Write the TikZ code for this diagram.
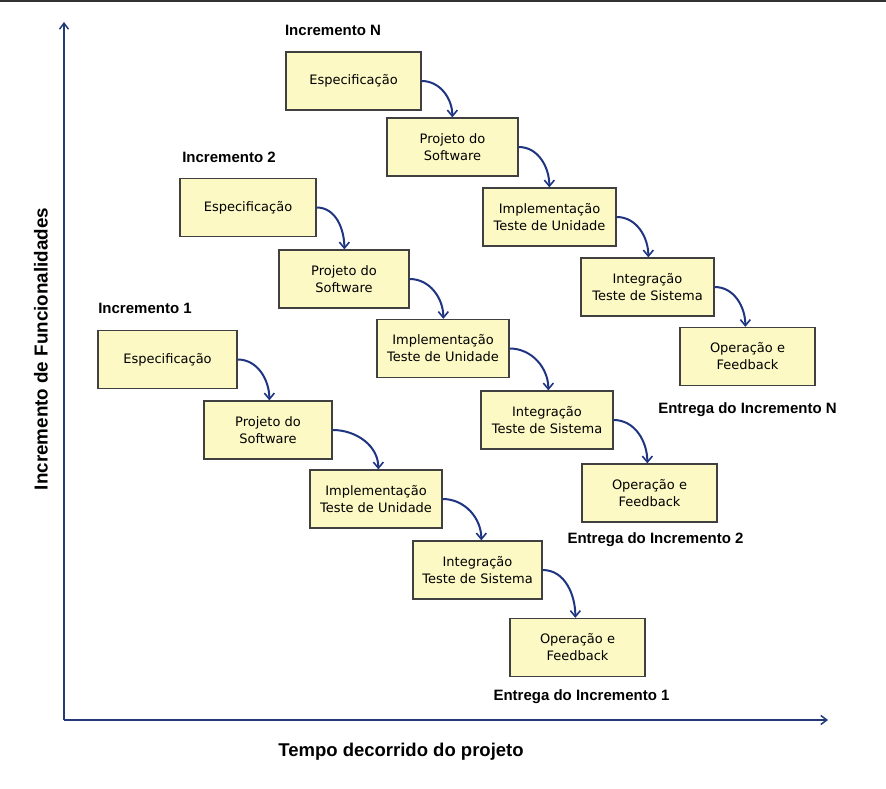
\documentclass[tikz,border=0pt]{standalone}
\usepackage{fontspec}
\setmainfont{Liberation Sans}
\newfontfamily\boxfont{DejaVu Sans}
\usetikzlibrary{calc,arrows.meta}
\definecolor{boxfill}{HTML}{FCF9C4}
\definecolor{navy}{HTML}{1F3582}
\definecolor{axisblue}{HTML}{243A78}
\tikzset{
  stagebox/.style={draw=black!75, line width=1.3pt, fill=boxfill, minimum width=#1, minimum height=58pt, inner sep=0pt, align=center, font=\boxfont\fontsize{13}{17}\selectfont},
  stagebox/.default=132pt,
  flow/.style={draw=navy, line width=2pt, -{Straight Barb[length=6pt,width=10pt,line width=1.6pt]}},
  heading/.style={font=\bfseries\fontsize{15}{18}\selectfont, inner sep=0pt},
  axisarrow/.style={draw=axisblue, line width=1.8pt, -{Straight Barb[length=6pt,width=9pt,line width=1.5pt]}}
}
\begin{document}
\begin{tikzpicture}[x=1pt,y=-1pt]
\useasboundingbox (0,0) rectangle (886,789);
\fill[white] (0,0) rectangle (886,789);
\fill[black!80] (0,0) rectangle (886,2.5);
% axes
\coordinate (origin) at (64,720);
\coordinate (ytop) at (64,22);
\coordinate (xend) at (828,720);
\draw[axisarrow] (origin) -- (ytop);
\draw[axisarrow] (origin) -- (xend);
\node[font=\bfseries\fontsize{18.8}{21}\selectfont, rotate=90] (ylab) at (41,349) {Incremento de Funcionalidades};
\node[font=\bfseries\fontsize{18.5}{21}\selectfont] (xlab) at (401,752) {Tempo decorrido do projeto};
% Increment 1
\node[heading] (h1) at (145,308) {Incremento 1};
\node[stagebox=139pt] (e1) at (167.5,359.5) {Especificação};
\node[stagebox=128pt] (p1) at (268,430) {Projeto do\\Software};
\node[stagebox=132pt] (i1) at (376,499) {Implementação\\Teste de Unidade};
\node[stagebox=129pt] (t1) at (477.5,570) {Integração\\Teste de Sistema};
\node[stagebox=135pt] (o1) at (577.5,647.5) {Operação e\\Feedback};
\node[heading] (d1) at (581.5,697) {Entrega do Incremento 1};
% Increment 2
\node[heading] (h2) at (229,157) {Incremento 2};
\node[stagebox=136pt] (e2) at (248,207.5) {Especificação};
\node[stagebox=130pt] (p2) at (344,279) {Projeto do\\Software};
\node[stagebox=132pt] (i2) at (443,348.5) {Implementação\\Teste de Unidade};
\node[stagebox=132pt] (t2) at (547,420) {Integração\\Teste de Sistema};
\node[stagebox=135pt] (o2) at (649.5,493) {Operação e\\Feedback};
\node[heading] (d2) at (655.5,540) {Entrega do Incremento 2};
% Increment N
\node[heading] (hN) at (333,30) {Incremento N};
\node[stagebox=135pt] (eN) at (353.5,81) {Especificação};
\node[stagebox=131pt] (pN) at (452.5,147) {Projeto do\\Software};
\node[stagebox=133pt] (iN) at (549.5,217) {Implementação\\Teste de Unidade};
\node[stagebox=133pt] (tN) at (647.5,287) {Integração\\Teste de Sistema};
\node[stagebox=135pt] (oN) at (747.5,356.5) {Operação e\\Feedback};
\node[heading] (dN) at (747.5,410) {Entrega do Incremento N};
% flows
\foreach \a/\b/\dx in {e1/p1/66,p1/i1/69,i1/t1/69,t1/o1/66,
                       e2/p2/66,p2/i2/67,i2/t2/68,t2/o2/66,
                       eN/pN/66,pN/iN/67,iN/tN/68,tN/oN/66}{
  \draw[flow] (\a.east) to[out=0,in=90] ($(\b.north west)+(\dx,0)$);
}
\end{tikzpicture}
\end{document}
